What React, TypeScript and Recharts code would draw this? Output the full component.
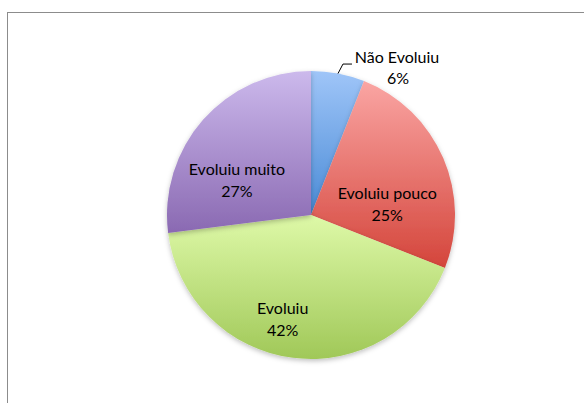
import { Cell, Pie, PieChart } from "recharts";

const categories = ["Não Evoluiu", "Evoluiu pouco", "Evoluiu", "Evoluiu muito"];
const shares = [6, 25, 42, 27];

// gradient stops per slice, top -> bottom (Excel 2007 look)
const GRADIENTS: [string, string][] = [
  ["#9fc5f8", "#4a8bd6"],
  ["#faa5a3", "#d4453b"],
  ["#def9a8", "#a0c858"],
  ["#ccb9ec", "#8a69b2"],
];

// label placement: shift from mid angle (deg, clockwise) and radius ratio
const LABEL_PLACE = [
  { shift: 0, ratio: 1 },
  { shift: 15, ratio: 0.535 },
  { shift: 8, ratio: 0.75 },
  { shift: -16, ratio: 0.57 },
];

const data = categories.map((name, i) => ({ name, value: shares[i] }));

const FONT = "Lato, 'Open Sans', sans-serif";
const FONT_SIZE = 16;
const RAD = Math.PI / 180;

function renderLabel(props: any) {
  const { cx, cy, midAngle, outerRadius, index, percent, name } = props;
  const pct = `${Math.round(percent * 100)}%`;
  // recharts angle -> clockwise from 12 o'clock
  const clock = 90 - midAngle;

  if (index === 0) {
    const ex = cx + outerRadius * Math.sin(clock * RAD);
    const ey = cy - outerRadius * Math.cos(clock * RAD);
    const bx = ex + 5;
    const by = ey - 9.5;
    const tx = bx + 9;
    return (
      <g key="lbl-0">
        <polyline
          points={`${ex},${ey} ${bx},${by} ${tx},${by}`}
          fill="none"
          stroke="#000"
          strokeWidth={1}
        />
        <text x={tx + 45} y={by - 1} textAnchor="middle" fontFamily={FONT} fontSize={FONT_SIZE} fill="#000">
          {name}
        </text>
        <text x={tx + 46} y={by + 20} textAnchor="middle" fontFamily={FONT} fontSize={FONT_SIZE} fill="#000">
          {pct}
        </text>
      </g>
    );
  }

  const place = LABEL_PLACE[index];
  const a = (clock + place.shift) * RAD;
  const r = outerRadius * place.ratio;
  const x = cx + r * Math.sin(a);
  const y = cy - r * Math.cos(a);
  return (
    <g key={`lbl-${index}`}>
      <text x={x} y={y - 5} textAnchor="middle" fontFamily={FONT} fontSize={FONT_SIZE} fill="#000">
        {name}
      </text>
      <text x={x} y={y + 17} textAnchor="middle" fontFamily={FONT} fontSize={FONT_SIZE} fill="#000">
        {pct}
      </text>
    </g>
  );
}

export default function App() {
  return (
    <div
      style={{
        position: "fixed",
        left: 0,
        top: 0,
        width: 584,
        height: 403,
        overflow: "hidden",
        background: "#fff",
      }}
    >
      {/* chart area frame, runs off the right and bottom edges */}
      <div
        style={{
          position: "absolute",
          left: 7,
          top: 12,
          width: 620,
          height: 440,
          borderTop: "1px solid #8c8c8c",
          borderLeft: "1px solid #8c8c8c",
        }}
      />
      <div style={{ position: "absolute", left: 0, top: 0 }}>
        <PieChart width={584} height={403}>
          <defs>
            {GRADIENTS.map(([top, bottom], i) => (
              <linearGradient key={i} id={`slice-${i}`} x1="0" y1="0" x2="0" y2="1">
                <stop offset="0%" stopColor={top} />
                <stop offset="100%" stopColor={bottom} />
              </linearGradient>
            ))}
            <filter id="pie-shadow" x="-10%" y="-10%" width="120%" height="125%">
              <feDropShadow dx="0" dy="2" stdDeviation="2.5" floodColor="#000" floodOpacity="0.25" />
            </filter>
          </defs>
          <Pie
            data={data}
            dataKey="value"
            nameKey="name"
            cx={306}
            cy={210}
            outerRadius={144}
            startAngle={90}
            endAngle={-270}
            stroke="none"
            label={renderLabel}
            labelLine={false}
            isAnimationActive={false}
            style={{ filter: "url(#pie-shadow)" }}
          >
            {data.map((_, i) => (
              <Cell key={i} fill={`url(#slice-${i})`} stroke="none" />
            ))}
          </Pie>
        </PieChart>
      </div>
    </div>
  );
}
